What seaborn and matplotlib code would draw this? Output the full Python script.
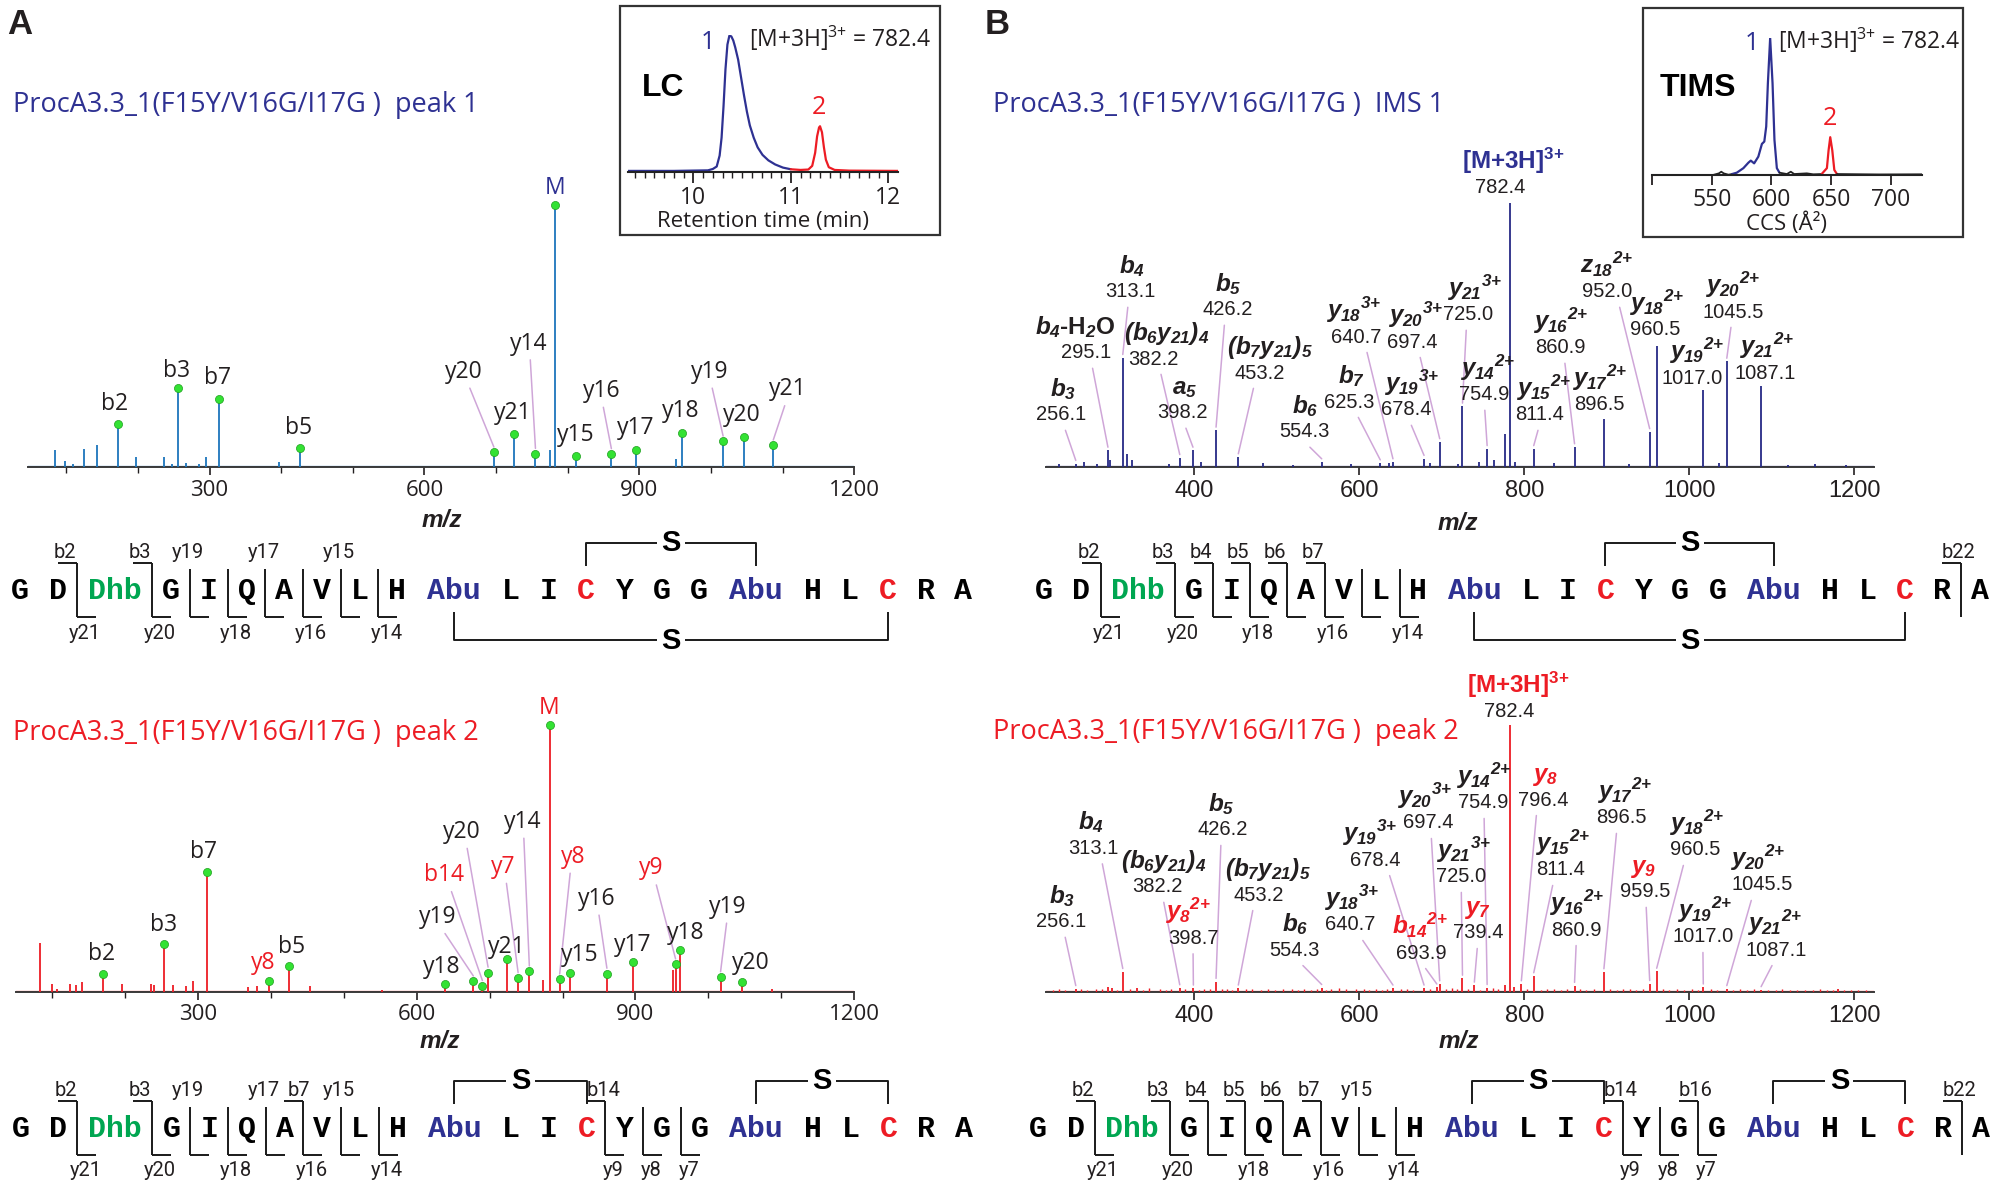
import matplotlib
matplotlib.use("Agg")
import matplotlib.pyplot as plt
import matplotlib.transforms as mtransforms
from matplotlib.patches import Rectangle
from matplotlib.ticker import FixedLocator, NullFormatter
import seaborn as sns

sns.set_theme(style="white")
plt.rcParams['font.family'] = ['Open Sans', 'DejaVu Sans']
plt.rcParams['mathtext.fontset'] = 'custom'
plt.rcParams['mathtext.it'] = 'Liberation Sans:bold:italic'
plt.rcParams['mathtext.rm'] = 'Liberation Sans:bold:italic'
plt.rcParams['mathtext.bf'] = 'Liberation Sans:bold'
plt.rcParams['mathtext.sf'] = 'Liberation Sans:bold:italic'

# ============================ DATA ============================
# LC chromatogram (retention time in min, relative intensity)
lc1_t = [9.33, 9.80, 10.15, 10.20, 10.24, 10.27, 10.29, 10.31, 10.33, 10.35, 10.37, 10.39, 10.41, 10.43,
         10.46, 10.49, 10.52, 10.55, 10.58, 10.62, 10.66, 10.71, 10.77, 10.84, 10.92, 11.00]
lc1_i = [0.008, 0.008, 0.012, 0.022, 0.04, 0.12, 0.25, 0.48, 0.75, 0.93, 0.995, 0.99, 0.96, 0.91,
         0.82, 0.69, 0.56, 0.44, 0.34, 0.25, 0.18, 0.125, 0.085, 0.055, 0.032, 0.02]
lc2_t = [11.00, 11.10, 11.18, 11.22, 11.25, 11.27, 11.29, 11.30, 11.32, 11.34, 11.36, 11.39, 11.45, 11.60, 12.10]
lc2_i = [0.02, 0.015, 0.018, 0.045, 0.14, 0.26, 0.325, 0.334, 0.29, 0.18, 0.09, 0.035, 0.015, 0.01, 0.008]

# TIMS mobilogram (CCS in A^2, relative intensity)
tims_k1_ccs = [500, 551, 556, 558, 560, 564, 567]
tims_k1_i = [0.0, 0.0, 0.012, 0.024, 0.012, 0.002, 0.007]
tims_b_ccs = [567, 571, 576.5, 580.7, 582.7, 585.5, 589, 592, 594, 595.6, 597, 598.9, 600.9, 602.5, 604.5, 606.7]
tims_b_i = [0.007, 0.017, 0.05, 0.09, 0.105, 0.085, 0.134, 0.227, 0.244, 0.354, 0.67, 1.0, 0.67, 0.256, 0.05, 0.017]
tims_k2_ccs = [606.7, 612.9, 616.2, 619, 629.6, 635, 642]
tims_k2_i = [0.017, 0.007, 0.024, 0.007, 0.012, 0.005, 0.007]
tims_r_ccs = [642, 646.4, 647.8, 649.2, 650.9, 652.6, 654.8]
tims_r_i = [0.007, 0.05, 0.18, 0.276, 0.18, 0.037, 0.007]
tims_k3_ccs = [654.8, 690, 726]
tims_k3_i = [0.007, 0.004, 0.005]

# ---- Panel A, peak 1 spectrum (m/z, relative intensity)
a1_mz = [84, 98, 109, 125, 143, 172, 197, 236, 247, 256, 267, 285, 295, 313, 397, 426, 697, 725, 755,
         776, 782.4, 811, 861, 896, 951, 960, 1017, 1046, 1087]
a1_h = [.066, .023, .01, .07, .085, .166, .038, .038, .012, .30, .015, .013, .04, .26, .019, .074, .056,
        .125, .051, .064, 1.0, .042, .05, .064, .032, .13, .098, .115, .083]
a1_lab = ['b2', 'b3', 'b7', 'b5', 'y20', 'y21', 'y14', 'M', 'y15', 'y16', 'y17', 'y18', 'y19', 'y20', 'y21']
a1_target = [172, 256, 313, 426, 697, 725, 755, 782.4, 811, 861, 896, 960, 1017, 1046, 1087]
a1_target_h = [.166, .30, .26, .074, .056, .125, .051, 1.0, .042, .05, .064, .13, .098, .115, .083]
a1_lab_x = [168, 254.5, 311, 424.8, 655, 724, 746, 783, 811, 847, 895, 958, 998, 1043, 1107]
a1_lab_y = [.242, .366, .338, .149, .363, .206, .471, 1.065, .121, .29, .149, .213, .363, .2, .296]
a1_lead = [0, 0, 0, 0, 1, 0, 1, 0, 0, 1, 0, 0, 1, 0, 1]
a1_red = [0] * 15

# ---- Panel A, peak 2 spectrum
a2_mz = [83, 99, 107, 125, 133, 141, 170, 196, 235, 240, 253.5, 266, 284, 293.6, 312, 368.6, 380.5, 397.5,
         424.9, 454, 552, 639, 677.6, 690, 697.8, 724.4, 739, 754.4, 772.6, 782.4, 796, 810.4, 860.8,
         896.3, 951.3, 955, 960.5, 1016.7, 1046, 1087.5]
a2_h = [.184, .031, .0125, .029, .025, .0375, .066, .031, .031, .025, .181, .025, .021, .04, .448, .019,
        .021, .04, .096, .021, .009, .031, .04, .023, .073, .1225, .0525, .0775, .044, 1.0, .0475, .0725,
        .069, .111, .081, .104, .156, .056, .0375, .0125]
a2_lab = ['b2', 'b3', 'b7', 'y8', 'b5', 'y18', 'y19', 'b14', 'y20', 'y7', 'y21', 'y14', 'M', 'y8', 'y15',
          'y16', 'y17', 'y9', 'y18', 'y19', 'y20']
a2_target = [170, 253.5, 312, 397.5, 424.9, 639, 677.6, 690, 697.8, 739, 724.4, 754.4, 782.4, 796, 810.4,
             860.8, 896.3, 955, 960.5, 1016.7, 1046]
a2_target_h = [.066, .181, .448, .04, .096, .031, .04, .023, .073, .0525, .1225, .0775, 1.0, .0475, .0725,
               .069, .111, .104, .156, .056, .0375]
a2_lab_x = [168, 252.8, 308, 389, 428.4, 634.7, 629, 637, 662, 719, 724, 745, 781.6, 814, 823.7, 847.3,
            896, 922, 969.4, 1027, 1058.6]
a2_lab_y = [.142, .251, .524, .109, .17, .095, .281, .438, .6, .469, .17, .638, 1.064, .507, .139, .35,
            .176, .463, .221, .32, .11]
a2_lead = [0, 0, 0, 0, 0, 0, 1, 1, 1, 1, 0, 1, 0, 1, 0, 1, 0, 1, 0, 1, 0]
a2_red = [0, 0, 0, 1, 0, 0, 0, 1, 0, 1, 0, 0, 1, 1, 0, 0, 0, 1, 0, 0, 0]

# ---- Panel B, IMS 1 spectrum
b1_mz = [236, 256.1, 266, 282, 295.1, 298, 313.1, 318, 324, 369, 382.2, 398.2, 408, 426.2, 453.2, 483,
         520, 554.3, 590, 625.3, 636, 640.7, 678.4, 686, 697.4, 719, 725.0, 745, 754.9, 763, 776, 782.4,
         789, 811.4, 836, 860.9, 896.5, 927, 952.0, 960.5, 1017.0, 1036, 1045.5, 1087.1, 1120, 1153, 1190]
b1_h = [.01, .013, .019, .013, .063, .025, .414, .05, .025, .013, .035, .063, .019, .139, .038, .015,
        .008, .019, .01, .015, .015, .019, .032, .015, .095, .013, .23, .019, .069, .025, .126, 1.0, .019,
        .069, .015, .076, .183, .013, .133, .46, .293, .015, .40, .307, .008, .01, .008]
b1_names = [r'$b_{3}$', r'$b_{4}$-H$_{2}$O', r'$b_{4}$', r'$(b_{6}y_{21})_{4}$', r'$a_{5}$', r'$b_{5}$',
            r'$(b_{7}y_{21})_{5}$', r'$b_{6}$', r'$b_{7}$', r'$y_{18}{}^{3{+}}$', r'$y_{19}{}^{3{+}}$',
            r'$y_{20}{}^{3{+}}$', r'$y_{21}{}^{3{+}}$', r'$y_{14}{}^{2{+}}$', r'[M+3H]$^{\mathbf{3{+}}}$',
            r'$y_{15}{}^{2{+}}$', r'$y_{16}{}^{2{+}}$', r'$y_{17}{}^{2{+}}$', r'$z_{18}{}^{2{+}}$',
            r'$y_{18}{}^{2{+}}$', r'$y_{19}{}^{2{+}}$', r'$y_{20}{}^{2{+}}$', r'$y_{21}{}^{2{+}}$']
b1_values = [256.1, 295.1, 313.1, 382.2, 398.2, 426.2, 453.2, 554.3, 625.3, 640.7, 678.4, 697.4, 725.0,
             754.9, 782.4, 811.4, 860.9, 896.5, 952.0, 960.5, 1017.0, 1045.5, 1087.1]
b1_target = b1_values
b1_num_x = [238.2, 268.5, 321.8, 349.7, 386, 440.6, 479.4, 533.9, 587.3, 595.8, 656.4, 663.6, 731.5,
            750.9, 770.3, 818.8, 844.2, 891.5, 900, 958.2, 1003, 1052.7, 1091.5]
b1_num_y = [.197, .432, .663, .409, .205, .595, .356, .133, .246, .492, .216, .473, .576, .273, 1.057,
            .197, .451, .235, .663, .519, .337, .587, .356]
b1_name_x = [240.6, 255, 324.2, 366.7, 388.5, 440.6, 491.5, 533.9, 591, 593.3, 663.6, 668.5, 740, 755.8,
             786, 823.6, 844.2, 891.5, 900, 960.6, 1009, 1052.7, 1094]
b1_lead = [1, 1, 1, 1, 1, 1, 1, 1, 1, 1, 1, 1, 1, 1, 0, 1, 1, 0, 1, 0, 0, 1, 0]
b1_red = [0] * 23

# ---- Panel B, peak 2 spectrum
b2_mz = [256.1, 295, 300, 313.1, 330, 382.2, 398.7, 426.2, 453.2, 554.3, 640.7, 678.4, 693.9, 697.4,
         725.0, 739.4, 754.9, 776, 782.4, 788, 796.4, 811.4, 860.9, 896.5, 952, 960.5, 1017.0, 1045.5,
         1087.1, 1180]
b2_h = [.012, .02, .015, .076, .015, .015, .014, .039, .014, .016, .014, .014, .018, .03, .051, .025,
        .016, .025, 1.0, .02, .03, .06, .024, .075, .031, .077, .018, .012, .008, .01]
b2_noise_mz = [228, 236, 243, 262, 270, 281, 288, 306, 322, 338, 345, 358, 366, 372, 389, 405, 412, 419,
               433, 440, 446, 462, 470, 481, 489, 498, 507, 518, 526, 533, 541, 548, 560, 566, 575, 584,
               596, 605, 612, 620, 628, 633, 650, 658, 665, 686, 705, 712, 718, 732, 746, 762, 768, 803,
               820, 828, 836, 845, 852, 868, 875, 884, 904, 912, 920, 928, 936, 944, 968, 976, 985, 994,
               1003, 1010, 1026, 1034, 1053, 1062, 1070, 1078, 1096, 1105, 1113, 1122, 1131, 1140, 1150,
               1158, 1167, 1174, 1188, 1196, 1205, 1214]
b2_noise_h = [.008, .012, .009, .01, .007, .011, .013, .008, .012, .009, .014, .011, .008, .01, .013, .009,
              .012, .01, .011, .013, .008, .01, .012, .009, .011, .008, .01, .012, .009, .011, .007, .013,
              .009, .012, .014, .01, .011, .013, .008, .012, .009, .011, .01, .012, .009, .013, .011, .015,
              .01, .012, .009, .014, .011, .012, .009, .013, .01, .008, .012, .01, .009, .011, .012, .008,
              .01, .013, .009, .011, .01, .008, .012, .009, .011, .008, .01, .007, .009, .011, .008, .01,
              .009, .007, .01, .008, .009, .007, .008, .01, .007, .009, .008, .007, .009, .006]
b2_names = [r'$b_{3}$', r'$b_{4}$', r'$(b_{6}y_{21})_{4}$', r'$y_{8}{}^{2{+}}$', r'$b_{5}$',
            r'$(b_{7}y_{21})_{5}$', r'$b_{6}$', r'$y_{18}{}^{3{+}}$', r'$y_{19}{}^{3{+}}$',
            r'$b_{14}{}^{2{+}}$', r'$y_{20}{}^{3{+}}$', r'$y_{21}{}^{3{+}}$', r'$y_{7}$',
            r'$y_{14}{}^{2{+}}$', r'[M+3H]$^{\mathbf{3{+}}}$', r'$y_{8}$', r'$y_{15}{}^{2{+}}$',
            r'$y_{16}{}^{2{+}}$', r'$y_{17}{}^{2{+}}$', r'$y_{9}$', r'$y_{18}{}^{2{+}}$',
            r'$y_{19}{}^{2{+}}$', r'$y_{20}{}^{2{+}}$', r'$y_{21}{}^{2{+}}$']
b2_values = [256.1, 313.1, 382.2, 398.7, 426.2, 453.2, 554.3, 640.7, 678.4, 693.9, 697.4, 725.0, 739.4,
             754.9, 782.4, 796.4, 811.4, 860.9, 896.5, 959.5, 960.5, 1017.0, 1045.5, 1087.1]
b2_target = [256.1, 313.1, 382.2, 398.7, 426.2, 453.2, 554.3, 640.7, 678.4, 693.9, 697.4, 725.0, 739.4,
             754.9, 782.4, 796.4, 811.4, 860.9, 896.5, 952, 960.5, 1017.0, 1045.5, 1087.1]
b2_num_x = [237.8, 277.7, 354.5, 398.2, 434.5, 478.2, 521.8, 588.5, 618.8, 674.5, 683, 723, 744.4, 749.7,
            781.2, 822.4, 844.2, 863.6, 918.2, 946, 1006.7, 1016.4, 1087.9, 1106]
b2_num_y = [.263, .538, .394, .201, .607, .363, .157, .251, .494, .146, .633, .431, .221, .708, 1.049,
            .719, .457, .232, .652, .375, .532, .206, .401, .157]
b2_name_x = [240, 274.5, 363, 391.5, 432, 489, 521.8, 591, 613, 673.3, 679.4, 726.7, 742.4, 750.9, 792,
             824.8, 846.7, 863.6, 921.8, 943.6, 1009, 1018.8, 1083, 1103.6]
b2_lead = [1] * 14 + [0] + [1] * 9
b2_red = [0, 0, 0, 1, 0, 0, 0, 0, 0, 1, 0, 0, 1, 0, 1, 1, 0, 0, 0, 1, 0, 0, 0, 0]

# ---- Peptide sequence and fragment maps
peptide = ["G", "D", "Dhb", "G", "I", "Q", "A", "V", "L", "H", "Abu", "L", "I", "C", "Y", "G", "G", "Abu",
           "H", "L", "C", "R", "A"]
# (cleavage index, b label, y label, y label side); '' = tick without label, None = no tick
frag_a1 = [(2, 'b2', 'y21', 'below'), (3, 'b3', 'y20', 'below'), (4, None, 'y19', 'above'),
           (5, None, 'y18', 'below'), (6, None, 'y17', 'above'), (7, None, 'y16', 'below'),
           (8, None, 'y15', 'above'), (9, None, 'y14', 'below')]
frag_b1 = [(2, 'b2', 'y21', 'below'), (3, 'b3', 'y20', 'below'), (4, 'b4', '', 'below'),
           (5, 'b5', 'y18', 'below'), (6, 'b6', '', 'below'), (7, 'b7', 'y16', 'below'),
           (8, None, '', 'below'), (9, None, 'y14', 'below'), (22, 'b22', None, None)]
frag_a2 = [(2, 'b2', 'y21', 'below'), (3, 'b3', 'y20', 'below'), (4, None, 'y19', 'above'),
           (5, None, 'y18', 'below'), (6, None, 'y17', 'above'), (7, 'b7', 'y16', 'below'),
           (8, None, 'y15', 'above'), (9, None, 'y14', 'below'), (14, 'b14', 'y9', 'below'),
           (15, None, 'y8', 'below'), (16, None, 'y7', 'below')]
frag_b2 = [(2, 'b2', 'y21', 'below'), (3, 'b3', 'y20', 'below'), (4, 'b4', '', 'below'),
           (5, 'b5', 'y18', 'below'), (6, 'b6', '', 'below'), (7, 'b7', 'y16', 'below'),
           (8, None, 'y15', 'above'), (9, None, 'y14', 'below'), (14, 'b14', 'y9', 'below'),
           (15, None, 'y8', 'below'), (16, 'b16', 'y7', 'below'), (22, 'b22', None, None)]
bridges_peak1_top = [(13, 17)]
bridges_peak1_bottom = [(10, 20)]
bridges_peak2_top = [(10, 13), (17, 20)]
bridges_peak2_bottom = []

title_seq = "ProcA3.3_1(F15Y/V16G/I17G )"

# ============================ STYLE ============================
BLUE_T = '#2e3192'
RED = '#ed1c24'
A_BLUE = '#1c75bc'
NAVY = '#262a86'
GREEN_SEQ = '#00a651'
DOT = '#33e233'
LEAD = '#cfa6d8'
TXT = '#231f20'

fig = plt.figure(figsize=(20, 11.83), dpi=100)
W, H = 2000.0, 1183.0


def px_axes(x0, x1, ybot, ytop):
    ax = fig.add_axes([x0 / W, 1 - ybot / H, (x1 - x0) / W, (ybot - ytop) / H])
    ax.patch.set_visible(False)
    return ax


def spectrum_axes(ax, mz, h, color, xlim, major, minor, tickfont, ticksize, lw):
    ax.vlines(mz, 0, h, colors=color, lw=lw, clip_on=False, zorder=3)
    ax.axhline(0, color=color, lw=1.6, zorder=2)
    ax.set_xlim(*xlim)
    ax.set_ylim(0, 1)
    sns.despine(ax=ax, left=True)
    ax.spines['bottom'].set_color('#3a3a3a')
    ax.spines['bottom'].set_linewidth(1.4)
    ax.set_yticks([])
    ax.xaxis.set_major_locator(FixedLocator(major))
    if minor:
        ax.xaxis.set_minor_locator(FixedLocator(minor))
        ax.xaxis.set_minor_formatter(NullFormatter())
    ax.tick_params(axis='x', which='major', bottom=True, direction='out', length=6, width=1.2,
                   colors=TXT, labelsize=ticksize, pad=3)
    ax.tick_params(axis='x', which='minor', bottom=True, direction='out', length=4, width=1.0, colors=TXT)
    for lab in ax.get_xticklabels():
        lab.set_fontfamily(tickfont)
    ax.set_xlabel('')
    ax.set_ylabel('')


def a_labels(ax, labs, tx, th, lx, ly, lead, red, mcolor):
    for lab, t, tht, x, y, ld, r in zip(labs, tx, th, lx, ly, lead, red):
        col = mcolor if lab == 'M' else (RED if r else TXT)
        ax.text(x, y, lab, ha='center', va='center', fontsize=16.5, color=col, clip_on=False,
                family=['Open Sans', 'DejaVu Sans'], zorder=7)
        if ld:
            ax.plot([x + 0.2 * (t - x), t], [y - 0.062, tht + 0.02], color=LEAD, lw=1.1, clip_on=False,
                    zorder=2)
    sns.scatterplot(x=tx, y=th, ax=ax, color=DOT, s=34, edgecolor='#1e9e1e', linewidth=0.5,
                    zorder=6, clip_on=False, legend=False)
    ax.set_xlabel('')
    ax.set_ylabel('')


def b_labels(ax, names, values, targets, nx, ny, namex, lead, red, peakmz, peakh, mcolor):
    lookup = dict(zip(peakmz, peakh))
    name_tr = mtransforms.offset_copy(ax.transData, fig=fig, x=0, y=19, units='dots')
    for nm, v, t, x, y, namx, ld, r in zip(names, values, targets, nx, ny, namex, lead, red):
        is_m = nm.startswith('[M')
        col = mcolor if is_m else (RED if r else TXT)
        ax.text(x, y, f"{v:.1f}", ha='center', va='center', fontsize=14.5, color=TXT,
                family='Liberation Sans', clip_on=False, zorder=7)
        ax.text(namx, y, nm, ha='center', va='baseline', fontsize=17.5, color=col,
                family=['Liberation Sans', 'DejaVu Sans'], fontweight='bold', transform=name_tr,
                clip_on=False, zorder=7)
        if ld:
            ax.plot([x + 0.3 * (t - x), t], [y - 0.058, lookup.get(t, 0.01) + 0.012], color=LEAD, lw=1.1,
                    clip_on=False, zorder=2)


# ---------------- Panel A spectra ----------------
axA1 = px_axes(27.6, 854.2, 467, 205)
spectrum_axes(axA1, a1_mz, a1_h, A_BLUE, (46, 1200), [300, 600, 900, 1200],
              [100, 200, 400, 500, 700, 800, 1000, 1100], 'Open Sans', 16, 1.3)
a_labels(axA1, a1_lab, a1_target, a1_target_h, a1_lab_x, a1_lab_y, a1_lead, a1_red, BLUE_T)

axA2 = px_axes(15.8, 854.2, 992, 725)
spectrum_axes(axA2, a2_mz, a2_h, RED, (50, 1200), [300, 600, 900, 1200],
              [100, 200, 400, 500, 700, 800, 1000, 1100], 'Open Sans', 16, 1.3)
a_labels(axA2, a2_lab, a2_target, a2_target_h, a2_lab_x, a2_lab_y, a2_lead, a2_red, RED)

# ---------------- Panel B spectra ----------------
axB1 = px_axes(1046, 1874, 467, 203)
spectrum_axes(axB1, b1_mz, b1_h, NAVY, (220, 1224), [400, 600, 800, 1000, 1200], None,
              'Liberation Sans', 17, 1.3)
b_labels(axB1, b1_names, b1_values, b1_target, b1_num_x, b1_num_y, b1_name_x, b1_lead, b1_red,
         b1_mz, b1_h, BLUE_T)

axB2 = px_axes(1046, 1874, 992, 725)
axB2.vlines(b2_noise_mz, 0, b2_noise_h, colors=RED, lw=1.0, zorder=3)
spectrum_axes(axB2, b2_mz, b2_h, RED, (220, 1224), [400, 600, 800, 1000, 1200], None,
              'Liberation Sans', 17, 1.3)
b_labels(axB2, b2_names, b2_values, b2_target, b2_num_x, b2_num_y, b2_name_x, b2_lead, b2_red,
         b2_mz + b2_noise_mz, b2_h + b2_noise_h, RED)

# ---------------- LC inset ----------------
axLC = px_axes(628, 898, 172, 35)
sns.lineplot(x=lc1_t, y=lc1_i, ax=axLC, color=BLUE_T, lw=1.6, sort=False, estimator=None)
sns.lineplot(x=lc2_t, y=lc2_i, ax=axLC, color=RED, lw=1.6, sort=False, estimator=None)
axLC.set_xlim(9.33, 12.1)
axLC.set_ylim(0, 1)
sns.despine(ax=axLC, left=True)
axLC.spines['bottom'].set_color('#222')
axLC.spines['bottom'].set_linewidth(1.5)
axLC.set_yticks([])
axLC.xaxis.set_major_locator(FixedLocator([10, 11, 12]))
axLC.xaxis.set_minor_locator(FixedLocator([9.4 + 0.1 * k for k in range(27)]))
axLC.xaxis.set_minor_formatter(NullFormatter())
axLC.tick_params(axis='x', which='major', bottom=True, direction='out', length=8, width=1.3, colors=TXT,
                 labelsize=16.5, pad=2)
axLC.tick_params(axis='x', which='minor', bottom=True, direction='out', length=4, width=1.0, colors=TXT)
axLC.set_xlabel('Retention time (min)', fontsize=16, color=TXT, labelpad=1)
axLC.set_ylabel('')

# ---------------- TIMS inset ----------------
axT = px_axes(1652, 1922, 175, 38)
sns.lineplot(x=tims_k1_ccs, y=tims_k1_i, ax=axT, color='#222222', lw=1.3, sort=False, estimator=None)
sns.lineplot(x=tims_b_ccs, y=tims_b_i, ax=axT, color=BLUE_T, lw=1.6, sort=False, estimator=None)
sns.lineplot(x=tims_k2_ccs, y=tims_k2_i, ax=axT, color='#222222', lw=1.3, sort=False, estimator=None)
sns.lineplot(x=tims_r_ccs, y=tims_r_i, ax=axT, color=RED, lw=1.6, sort=False, estimator=None)
sns.lineplot(x=tims_k3_ccs, y=tims_k3_i, ax=axT, color='#222222', lw=1.3, sort=False, estimator=None)
axT.set_xlim(500, 726)
axT.set_ylim(0, 1)
sns.despine(ax=axT, left=True)
axT.spines['bottom'].set_color('#222')
axT.spines['bottom'].set_linewidth(1.5)
axT.set_yticks([])
axT.set_xticks([500, 550, 600, 650, 700])
axT.set_xticklabels(['', '550', '600', '650', '700'])
axT.tick_params(axis='x', which='major', bottom=True, direction='out', length=7, width=1.3, colors=TXT,
                labelsize=16.5, pad=2)
axT.set_xlabel('CCS (Å²)', fontsize=16, color=TXT, labelpad=1)
axT.set_ylabel('')

# ---------------- Overlay (pixel coordinates) ----------------
ov = fig.add_axes([0, 0, 1, 1])
ov.set_xlim(0, W)
ov.set_ylim(H, 0)
ov.axis('off')
ov.patch.set_visible(False)

ov.add_patch(Rectangle((620, 6), 320, 229, fill=False, ec='#333333', lw=1.6))
ov.add_patch(Rectangle((1643, 8), 320, 229, fill=False, ec='#333333', lw=1.6))

ov.text(7, 24, 'A', fontsize=25, fontweight='bold', family='Liberation Sans', color=TXT, va='center')
ov.text(985, 24, 'B', fontsize=25, fontweight='bold', family='Liberation Sans', color=TXT, va='center')

ov.text(13, 105, title_seq + "  peak 1", fontsize=19.5, color=BLUE_T, va='center')
ov.text(13, 733, title_seq + "  peak 2", fontsize=19.5, color=RED, va='center')
ov.text(993, 105, title_seq + "  IMS 1", fontsize=19.5, color=BLUE_T, va='center')
ov.text(993, 732, title_seq + "  peak 2", fontsize=19.5, color=RED, va='center')

for (x, y) in [(442, 520), (440, 1042), (1458, 523), (1459, 1042)]:
    ov.text(x, y, 'm/z', fontsize=17.5, fontweight='bold', fontstyle='italic', family='Liberation Sans',
            color=TXT, ha='center', va='center')

# inset annotations
ov.text(663, 88, 'LC', fontsize=23, fontweight='bold', family='Liberation Sans', color='black',
        ha='center', va='center')
ov.text(1698, 88, 'TIMS', fontsize=23, fontweight='bold', family='Liberation Sans', color='black',
        ha='center', va='center')
ov.text(708, 42, '1', fontsize=18, color=BLUE_T, ha='center', va='center')
ov.text(819, 107, '2', fontsize=18, color=RED, ha='center', va='center')
ov.text(1752, 43, '1', fontsize=18, color=BLUE_T, ha='center', va='center')
ov.text(1830, 118, '2', fontsize=18, color=RED, ha='center', va='center')
ov.text(840, 38, r'[M+3H]$^{\mathregular{3{+}}}$ = 782.4', fontsize=16.5, color=TXT, ha='center',
        va='center')
ov.text(1869, 40, r'[M+3H]$^{\mathregular{3{+}}}$ = 782.4', fontsize=16.5, color=TXT, ha='center',
        va='center')


# ---------------- Sequences ----------------
def res_color(r):
    if r == 'Dhb':
        return GREEN_SEQ
    if r == 'Abu':
        return BLUE_T
    if r == 'C':
        return RED
    return 'black'


def draw_sequence(x0, yc, step1, step3, frags, btop, bbot):
    widths = [step1 if len(r) == 1 else 2 * step3 - step1 for r in peptide]
    hw = [9 if len(r) == 1 else 27 for r in peptide]
    xs = [x0]
    for i in range(1, len(peptide)):
        xs.append(xs[-1] + (widths[i - 1] + widths[i]) / 2)
    for r, x in zip(peptide, xs):
        ov.text(x, yc + 9, r, fontsize=21.5, fontweight='bold', family='Liberation Mono',
                color=res_color(r), ha='center', va='baseline')
    lk = dict(color='#1a1a1a', lw=1.4, solid_capstyle='butt')
    above = {k for k, bl, yl, side in frags if side == 'above'}
    for k, bl, yl, side in frags:
        xv = (xs[k - 1] + hw[k - 1] + xs[k] - hw[k]) / 2
        top = yc - 27 if bl is not None else yc - 21
        ov.plot([xv, xv], [top, yc + 27], **lk)
        if bl is not None:
            ov.plot([xv - 19, xv], [yc - 27, yc - 27], **lk)
            if k >= 14:
                dx = -2
            elif (k - 1) in above:
                dx = -5
            else:
                dx = -12
            ov.text(xv + dx, yc - 38, bl, fontsize=14.5, family='Roboto', color=TXT, ha='center',
                    va='center')
        if yl is not None:
            ov.plot([xv, xv + 19], [yc + 27, yc + 27], **lk)
            if yl:
                if side == 'below':
                    ov.text(xv + 8, yc + 43, yl, fontsize=14.5, family='Roboto', color=TXT, ha='center',
                            va='center')
                else:
                    ov.text(xv - 2, yc - 38, yl, fontsize=14.5, family='Roboto', color=TXT, ha='center',
                            va='center')
    for i, j in btop:
        ov.plot([xs[i], xs[i], xs[j], xs[j]], [yc - 24, yc - 47, yc - 47, yc - 24], **lk)
        ov.text((xs[i] + xs[j]) / 2, yc - 47, 'S', fontsize=21, fontweight='bold', family='Liberation Sans',
                color='black', ha='center', va='center',
                bbox=dict(boxstyle='square,pad=0.15', fc='white', ec='none'))
    for i, j in bbot:
        ov.plot([xs[i], xs[i], xs[j], xs[j]], [yc + 22, yc + 50, yc + 50, yc + 22], **lk)
        ov.text((xs[i] + xs[j]) / 2, yc + 51, 'S', fontsize=21, fontweight='bold', family='Liberation Sans',
                color='black', ha='center', va='center',
                bbox=dict(boxstyle='square,pad=0.15', fc='white', ec='none'))


draw_sequence(20, 590, 37.7, 56.7, frag_a1, bridges_peak1_top, bridges_peak1_bottom)
draw_sequence(1044, 590, 37.4, 56.2, frag_b1, bridges_peak1_top, bridges_peak1_bottom)
draw_sequence(20.4, 1128, 37.7, 56.7, frag_a2, bridges_peak2_top, bridges_peak2_bottom)
draw_sequence(1038, 1128, 37.7, 56.6, frag_b2, bridges_peak2_top, bridges_peak2_bottom)

fig.savefig('out.png', dpi=100, facecolor='white')
